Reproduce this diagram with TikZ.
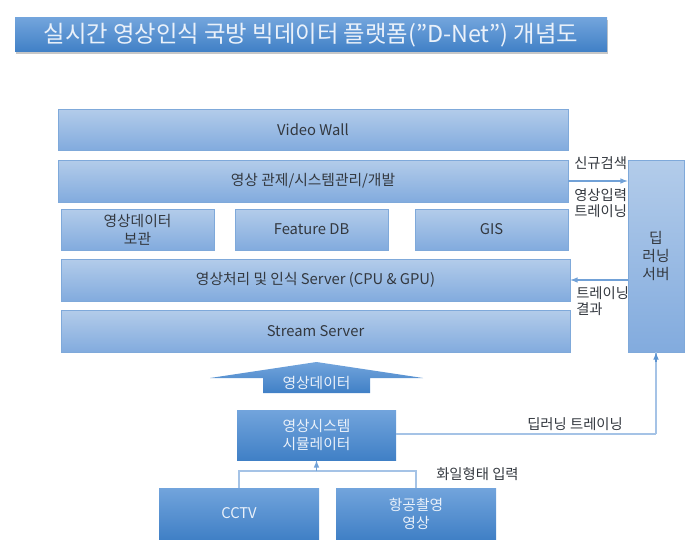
\documentclass[tikz,border=0pt]{standalone}
\usepackage{fontspec}
\setmainfont{Noto Sans CJK KR}
\usepackage{tikz}
\definecolor{lighttop}{HTML}{B3CCEA}
\definecolor{lightbot}{HTML}{82ABDE}
\definecolor{lightline}{HTML}{7FA9DA}
\definecolor{darktop}{HTML}{72A4DC}
\definecolor{darkbot}{HTML}{4080C6}
\definecolor{linkline}{HTML}{A5C3E6}
\definecolor{tipblue}{HTML}{5B93D0}
\definecolor{inktext}{HTML}{33383F}
\definecolor{palewhite}{HTML}{EAF1FA}
\tikzset{
	box size/.style 2 args={minimum width=#1*0.25mm,minimum height=#2*0.25mm},
	lightbox/.style={rectangle,draw=lightline,line width=0.5pt,top color=lighttop,bottom color=lightbot,
		text=inktext,font=\fontsize{10.5}{12.8}\selectfont,align=center,inner sep=0pt},
	darkbox/.style={rectangle,top color=darktop,bottom color=darkbot,
		text=palewhite,font=\fontsize{10.5}{12.8}\selectfont,align=center,inner sep=0pt},
	note/.style={text=inktext,font=\fontsize{10.2}{11.4}\selectfont,align=left,inner sep=0pt},
	link/.style={draw=linkline,line width=1pt},
	flow/.style={draw=tipblue!70!linkline,line width=0.8pt,-latex}
}
\begin{document}
\begin{tikzpicture}[x=0.25mm,y=-0.25mm]
\useasboundingbox (0,0) rectangle (700,553);
\fill[black!22] (16,20) rectangle (608,54);
\path (311,35) node(title)[darkbox,box size={592}{34},font=\fontsize{16.6}{19}\selectfont] {실시간 영상인식 국방 빅데이터 플랫폼(”D-Net”) 개념도}
		(313,129.5) node(wall)[lightbox,box size={510}{41}] {Video Wall}
		(313,181) node(control)[lightbox,box size={510}{42}] {영상 관제/시스템관리/개발}
		(137.5,229.5) node(archive)[lightbox,box size={153}{41}] {영상데이터\\보관}
		(311.5,229.5) node(feature)[lightbox,box size={153}{41}] {Feature DB}
		(491.5,229.5) node(gis)[lightbox,box size={153}{41}] {GIS}
		(315.5,280) node(vision)[lightbox,box size={509}{42}] {영상처리 및 인식 Server (CPU \& GPU)}
		(315.5,331) node(stream)[lightbox,box size={509}{42}] {Stream Server}
		(656,256) node(deep)[lightbox,box size={56}{192}] {딥\\러닝\\서버}
		(316.5,435) node(simul)[darkbox,box size={159}{50}] {영상시스템\\시뮬레이터}
		(239,513.5) node(cctv)[darkbox,box size={160}{51}] {CCTV}
		(416,513.5) node(aerial)[darkbox,box size={160}{51}] {항공촬영\\영상}
		;
	% big arrow
	\shade[top color=darktop,bottom color=darkbot] (316.5,362) -- (423,378) -- (370,378) -- (370,393)
		-- (263,393) -- (263,378) -- (210,378) -- cycle;
	\path (316.5,383) node(videodata)[text=palewhite,font=\fontsize{10.5}{12.8}\selectfont,inner sep=0pt] {영상데이터};
	\coordinate (join) at (316.5,471);
	\coordinate (corner) at (656,434);
	\draw[link] (cctv.north) |- (join) -| (aerial.north);
	\draw[flow] (join) -- (simul.south);
	\draw[link] (simul.east |- corner) -- (corner);
	\draw[link] (corner) -- (deep.south);
	\draw[flow,draw=tipblue] (656,362) -- (deep.south);
	\draw[flow] (control.east) -- (deep.west |- control.east);
	\draw[flow] (deep.west |- vision.east) -- (vision.east);
	\path (574,163) node(search)[note,anchor=west] {신규검색}
		(574,203) node(train)[note,anchor=west] {영상입력\\트레이닝}
		(576,301) node(result)[note,anchor=west] {트레이닝\\결과}
		(527,424) node(deeptrain)[note,anchor=west] {딥러닝 트레이닝}
		(436,474) node(fileinput)[note,anchor=west] {화일형태 입력}
		;
\end{tikzpicture}
\end{document}
